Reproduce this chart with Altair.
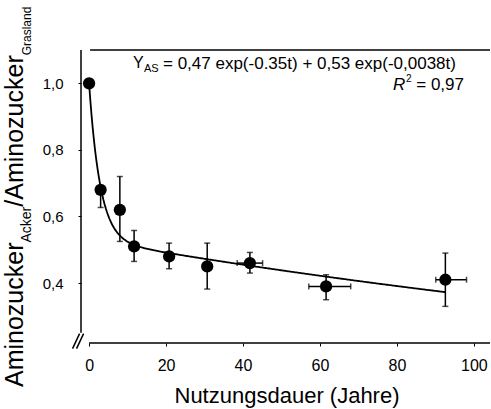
import altair as alt
import numpy as np
import pandas as pd

FONT = "Liberation Sans"

# Measured ratios (mean with error ranges) over years of arable use
years = [0, 3.0, 8.0, 11.7, 20.8, 30.7, 41.8, 61.6, 92.6]
ratio = [1.00, 0.68, 0.62, 0.51, 0.48, 0.45, 0.46, 0.39, 0.41]
ratio_lo = [1.00, 0.627, 0.525, 0.465, 0.443, 0.382, 0.430, 0.350, 0.330]
ratio_hi = [1.00, 0.690, 0.720, 0.558, 0.520, 0.520, 0.492, 0.425, 0.490]
years_lo = [0, 3.0, 8.0, 11.7, 20.8, 30.7, 38.5, 57.1, 90.1]
years_hi = [0, 3.0, 8.0, 11.7, 20.8, 30.7, 45.1, 68.0, 98.1]

# Fitted double-exponential model from the annotation
a1, k1 = 0.47, 0.35
a2, k2 = 0.53, 0.0038

x_ticks = [0, 20, 40, 60, 80, 100]
y_ticks = [0.4, 0.6, 0.8, 1.0]

X_DOM = [-2.1, 104.2]
Y_DOM = [0.22, 1.10]

pts = pd.DataFrame({
    "t": years, "y": ratio, "ylo": ratio_lo, "yhi": ratio_hi,
    "tlo": years_lo, "thi": years_hi,
})
tt = np.linspace(0, years[-1], 300)
fit = pd.DataFrame({"t": tt, "y": a1 * np.exp(-k1 * tt) + a2 * np.exp(-k2 * tt)})

xs = alt.Scale(domain=X_DOM, nice=False, zero=False)
ys = alt.Scale(domain=Y_DOM, nice=False, zero=False)

# Axes: ticks and labels only, the frame lines are drawn separately
x_axis = alt.Axis(
    values=x_ticks, domain=False, grid=False, tickSize=3, tickColor="black",
    labelFont=FONT, labelFontSize=16, labelColor="black", labelPadding=11,
    title=None)
y_axis = alt.Axis(
    values=y_ticks, domain=False, grid=False, tickSize=3, tickColor="black",
    labelFont=FONT, labelFontSize=15, labelColor="black", labelPadding=15,
    labelExpr="replace(format(datum.value, '.1f'), '.', ',')", title=None)


def X(f="t"):
    return alt.X(f"{f}:Q", scale=xs, axis=x_axis, title=None)


def Y(f="y"):
    return alt.Y(f"{f}:Q", scale=ys, axis=y_axis, title=None)


frame = pd.DataFrame({
    "x1": [0.26, 0.0, X_DOM[0]],
    "x2": [X_DOM[1], X_DOM[1], X_DOM[0]],
    "y1": [Y_DOM[1], Y_DOM[0], 0.251],
    "y2": [Y_DOM[1], Y_DOM[0], Y_DOM[1]],
})
frame_lines = alt.Chart(frame).mark_rule(color="black", strokeWidth=1.5).encode(
    x=X("x1"), x2="x2", y=Y("y1"), y2="y2")

# Axis break "//"
brk = pd.DataFrame({
    "x1": [-4.29, -3.25], "x2": [-2.47, -1.43],
    "y1": [0.203, 0.203], "y2": [0.248, 0.248],
})
break_marks = alt.Chart(brk).mark_rule(color="black", strokeWidth=1.5).encode(
    x=X("x1"), x2="x2", y=Y("y1"), y2="y2")

curve = alt.Chart(fit).mark_line(color="black", strokeWidth=1.8).encode(x=X(), y=Y())

err_pts = pts[pts["yhi"] > pts["ylo"]]
v_err = alt.Chart(err_pts).mark_rule(color="black", strokeWidth=1.5).encode(
    x=X(), y=Y("ylo"), y2="yhi")
v_caps = alt.Chart(err_pts).transform_fold(["ylo", "yhi"], as_=["end", "yv"]).mark_tick(
    orient="horizontal", color="black", size=6, thickness=1.5).encode(x=X(), y=Y("yv"))

h_pts = pts[pts["thi"] > pts["tlo"]]
h_err = alt.Chart(h_pts).mark_rule(color="black", strokeWidth=1.5).encode(
    x=X("tlo"), x2="thi", y=Y())
h_caps = alt.Chart(h_pts).transform_fold(["tlo", "thi"], as_=["end", "tv"]).mark_tick(
    orient="vertical", color="black", size=6, thickness=1.5).encode(x=X("tv"), y=Y())

points = alt.Chart(pts).mark_circle(color="black", opacity=1, size=150).encode(x=X(), y=Y())


def label(txt, x, y, size, angle=0, align="left", italic=False):
    return alt.Chart(pd.DataFrame({"k": [0]})).mark_text(
        text=txt, x=x, y=y, fontSize=size, font=FONT, angle=angle, align=align,
        baseline="alphabetic", color="black",
        fontStyle="italic" if italic else "normal")


texts = [
    # model equation
    label("Y", 52, 18, 16),
    label("AS", 63, 22, 11),
    label("= 0,47 exp(-0.35t) + 0,53 exp(-0,0038t)", 82, 19, 17),
    label("R", 312, 40, 17, italic=True),
    label("2", 325, 32, 10),
    label("= 0,97", 383, 40, 17, align="right"),
    # x axis title
    label("Nutzungsdauer (Jahre)", 206, 353, 22, align="center"),
    # y axis title with subscripts
    label("Aminozucker", -58, 337, 25, angle=270),
    label("Acker", -50, 192.5, 14, angle=270),
    label("/Aminozucker", -58, 156.7, 25, angle=270),
    label("Grasland", -50, 5.3, 12, angle=270),
]

chart = alt.layer(
    frame_lines, break_marks, curve, v_err, v_caps, h_err, h_caps, points, *texts
).properties(
    width=409, height=293,
    autosize=alt.AutoSizeParams(type="none"),
    padding={"left": 81, "top": 50, "right": 1, "bottom": 66},
    background="white",
).configure_view(stroke=None)

chart.save("out.html", embed_options={"renderer": "svg", "actions": False})
